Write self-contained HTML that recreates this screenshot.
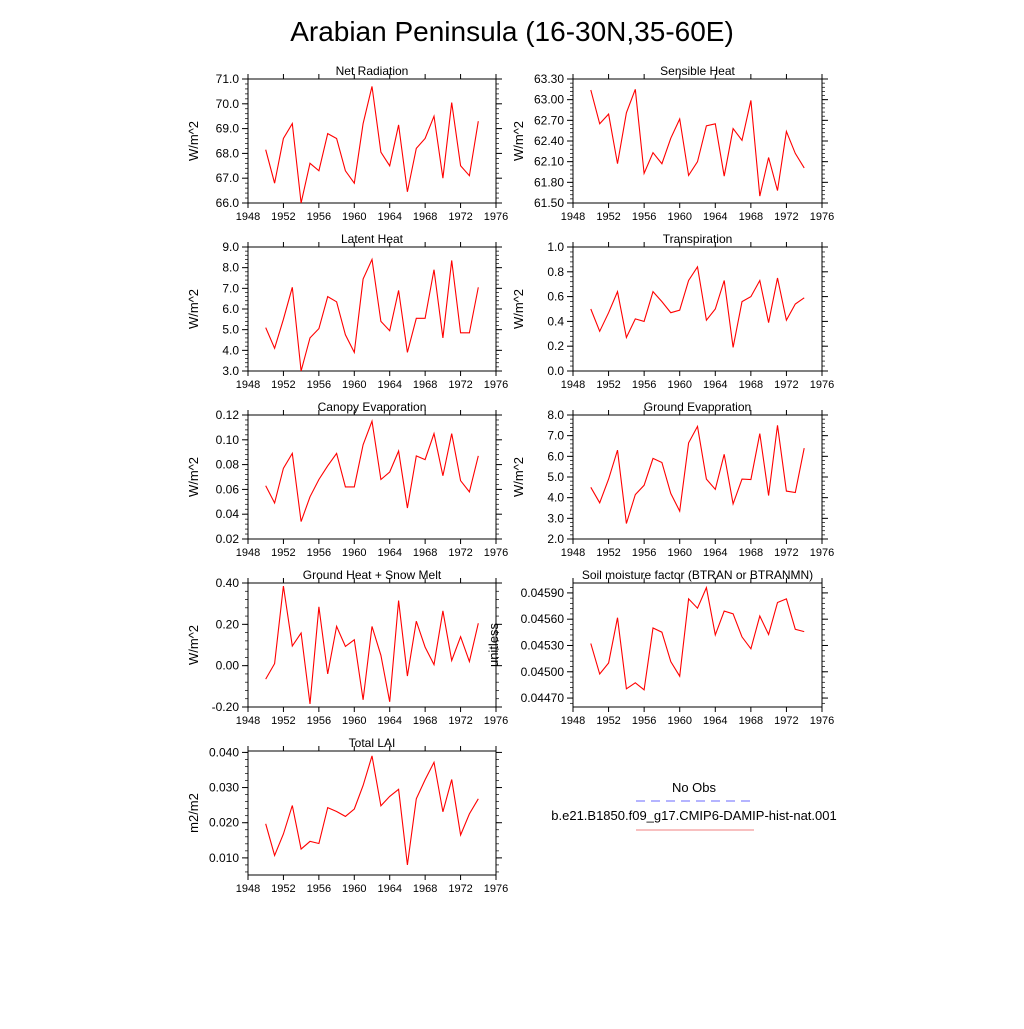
<!DOCTYPE html>
<html><head><meta charset="utf-8"><style>
body{margin:0;background:#fff}
svg{font-family:"Liberation Sans",sans-serif}
</style></head><body>
<svg id="c" width="1024" height="1024" viewBox="0 0 1024 1024" xmlns="http://www.w3.org/2000/svg">
<text x="512" y="41" font-size="28" text-anchor="middle">Arabian Peninsula (16-30N,35-60E)</text>
<g>
<text x="694" y="792" font-size="13" text-anchor="middle">No Obs</text>
<line x1="636" y1="801" x2="754" y2="801" stroke="#6a6aff" stroke-dasharray="9,6"/>
<text x="694" y="820" font-size="13" text-anchor="middle">b.e21.B1850.f09_g17.CMIP6-DAMIP-hist-nat.001</text>
<line x1="636" y1="830" x2="754" y2="830" stroke="#f08080"/>
</g>
</svg>
<script>
const years=[1950,1951,1952,1953,1954,1955,1956,1957,1958,1959,1960,1961,1962,1963,1964,1965,1966,1967,1968,1969,1970,1971,1972,1973,1974];
const xTicks=[1948,1952,1956,1960,1964,1968,1972,1976];
const netRad=[68.15,66.8,68.6,69.2,66.0,67.6,67.3,68.8,68.6,67.3,66.8,69.2,70.7,68.05,67.5,69.15,66.45,68.2,68.6,69.5,67.0,70.05,67.5,67.1,69.3];
const sensible=[63.14,62.65,62.79,62.07,62.81,63.15,61.93,62.23,62.07,62.44,62.72,61.90,62.10,62.62,62.65,61.89,62.58,62.41,62.99,61.60,62.16,61.68,62.54,62.22,62.01];
const latent=[5.1,4.1,5.5,7.05,3.0,4.6,5.05,6.6,6.35,4.75,3.9,7.45,8.4,5.4,4.95,6.9,3.9,5.55,5.55,7.9,4.6,8.35,4.85,4.85,7.05];
const transp=[0.50,0.32,0.47,0.64,0.27,0.42,0.40,0.64,0.56,0.47,0.49,0.73,0.84,0.41,0.50,0.73,0.19,0.56,0.60,0.73,0.39,0.75,0.41,0.54,0.59];
const canopy=[0.063,0.049,0.077,0.089,0.034,0.054,0.068,0.079,0.089,0.062,0.062,0.096,0.115,0.068,0.074,0.091,0.045,0.087,0.084,0.105,0.071,0.105,0.067,0.058,0.087];
const groundEvap=[4.5,3.75,4.9,6.3,2.75,4.15,4.6,5.9,5.7,4.2,3.35,6.65,7.45,4.9,4.4,6.1,3.7,4.9,4.88,7.1,4.1,7.5,4.32,4.25,6.4];
const groundHeat=[-0.065,0.01,0.385,0.095,0.158,-0.185,0.285,-0.04,0.19,0.093,0.125,-0.165,0.19,0.05,-0.175,0.315,-0.05,0.215,0.09,0.005,0.265,0.025,0.14,0.02,0.205];
const soil=[0.045323,0.044975,0.0451,0.045617,0.044806,0.044874,0.044794,0.0455,0.045451,0.045115,0.04495,0.045832,0.045726,0.04596,0.045421,0.045692,0.045662,0.045398,0.045262,0.045636,0.045425,0.045791,0.045832,0.045485,0.045458];
const lai=[0.0197,0.0107,0.0168,0.0249,0.0125,0.0147,0.0141,0.0243,0.0232,0.0218,0.0239,0.0306,0.0390,0.0248,0.0275,0.0295,0.0080,0.0268,0.0322,0.0372,0.0231,0.0323,0.0165,0.0225,0.0268];
const netTicks=[66,67,68,69,70,71];
const senTicks=[61.5,61.8,62.1,62.4,62.7,63.0,63.3];
const latTicks=[3,4,5,6,7,8,9];
const trTicks=[0,0.2,0.4,0.6,0.8,1.0];
const canTicks=[0.02,0.04,0.06,0.08,0.10,0.12];
const geTicks=[2,3,4,5,6,7,8];
const ghTicks=[-0.2,0,0.2,0.4];
const soilTicks=[0.0447,0.045,0.0453,0.0456,0.0459];
const laiTicks=[0.01,0.02,0.03,0.04];
const NS="http://www.w3.org/2000/svg";
const svg=document.getElementById('c');
function mk(t,a,p){const e=document.createElementNS(NS,t);for(const k in a)e.setAttribute(k,a[k]);(p||svg).appendChild(e);return e;}
const panels=[
{t:"Net Radiation",d:netRad,tk:netTicks,min:66,max:71,dec:1,u:"W/m^2",x:248,y:79,n:"net-radiation"},
{t:"Sensible Heat",d:sensible,tk:senTicks,min:61.5,max:63.3,dec:2,u:"W/m^2",x:573,y:79,n:"sensible-heat"},
{t:"Latent Heat",d:latent,tk:latTicks,min:3,max:9,dec:1,u:"W/m^2",x:248,y:247,n:"latent-heat"},
{t:"Transpiration",d:transp,tk:trTicks,min:0,max:1,dec:1,u:"W/m^2",x:573,y:247,n:"transpiration"},
{t:"Canopy Evaporation",d:canopy,tk:canTicks,min:0.02,max:0.12,dec:2,u:"W/m^2",x:248,y:415,n:"canopy-evaporation"},
{t:"Ground Evaporation",d:groundEvap,tk:geTicks,min:2,max:8,dec:1,u:"W/m^2",x:573,y:415,n:"ground-evaporation"},
{t:"Ground Heat + Snow Melt",d:groundHeat,tk:ghTicks,min:-0.2,max:0.4,dec:2,u:"W/m^2",x:248,y:583,n:"ground-heat"},
{t:"Soil moisture factor (BTRAN or BTRANMN)",d:soil,tk:soilTicks,min:0.044598,max:0.046013,dec:5,u:"unitless",x:573,y:583,n:"soil-moisture"},
{t:"Total LAI",d:lai,tk:laiTicks,min:0.00513,max:0.0404,dec:3,u:"m2/m2",x:248,y:751,n:"total-lai"}];
panels.forEach(p=>{
 const W=p.x===248?248:249,H=124;
 const g=mk('g',{});
 
 
 const X=v=>p.x+(v-1948)/28*W, Y=v=>p.y+H-(v-p.min)/(p.max-p.min)*H;
 const f=mk('rect',{x:p.x,y:p.y,width:W,height:H,fill:'none',stroke:'#000','stroke-width':1},g);
 
 
 const tt=mk('text',{x:p.x+W/2,y:p.y-4,'font-size':12,'text-anchor':'middle'},g);tt.textContent=p.t;
 
 
 xTicks.forEach(v=>{const x=X(v);
  mk('line',{x1:x,y1:p.y+H,x2:x,y2:p.y+H+5,stroke:'#000'},g);
  mk('line',{x1:x,y1:p.y,x2:x,y2:p.y-5,stroke:'#000'},g);
  const l=mk('text',{x:x,y:p.y+H+17,'font-size':11,'text-anchor':'middle'},g);l.textContent=v;
  
  });
 const step=p.tk[1]-p.tk[0];
 for(let v=p.tk[0]-step;v<=p.tk[p.tk.length-1]+step+1e-12;v+=step/5){
  if(v<p.min-1e-12||v>p.max+1e-12)continue;const y=Y(v);
  mk('line',{x1:p.x,y1:y,x2:p.x-3,y2:y,stroke:'#000','stroke-width':0.7},g);
  mk('line',{x1:p.x+W,y1:y,x2:p.x+W+3,y2:y,stroke:'#000','stroke-width':0.7},g);}
 p.tk.forEach(v=>{const y=Y(v);
  mk('line',{x1:p.x,y1:y,x2:p.x-6,y2:y,stroke:'#000'},g);
  mk('line',{x1:p.x+W,y1:y,x2:p.x+W+6,y2:y,stroke:'#000'},g);
  const l=mk('text',{x:p.x-9,y:y+4,'font-size':12,'text-anchor':'end'},g);l.textContent=v.toFixed(p.dec);
  
  });
 const yt=mk('text',{transform:`translate(${p.x-(p.u==='unitless'?75:50)},${p.y+H/2}) rotate(-90)`,'font-size':13,'text-anchor':'middle'},g);yt.textContent=p.u;
 
 
 const pl=mk('polyline',{points:p.d.map((v,i)=>X(years[i]).toFixed(1)+','+Y(v).toFixed(1)).join(' '),fill:'none',stroke:'#f00','stroke-width':1.1},g);
 
 
});
</script>
</body></html>
